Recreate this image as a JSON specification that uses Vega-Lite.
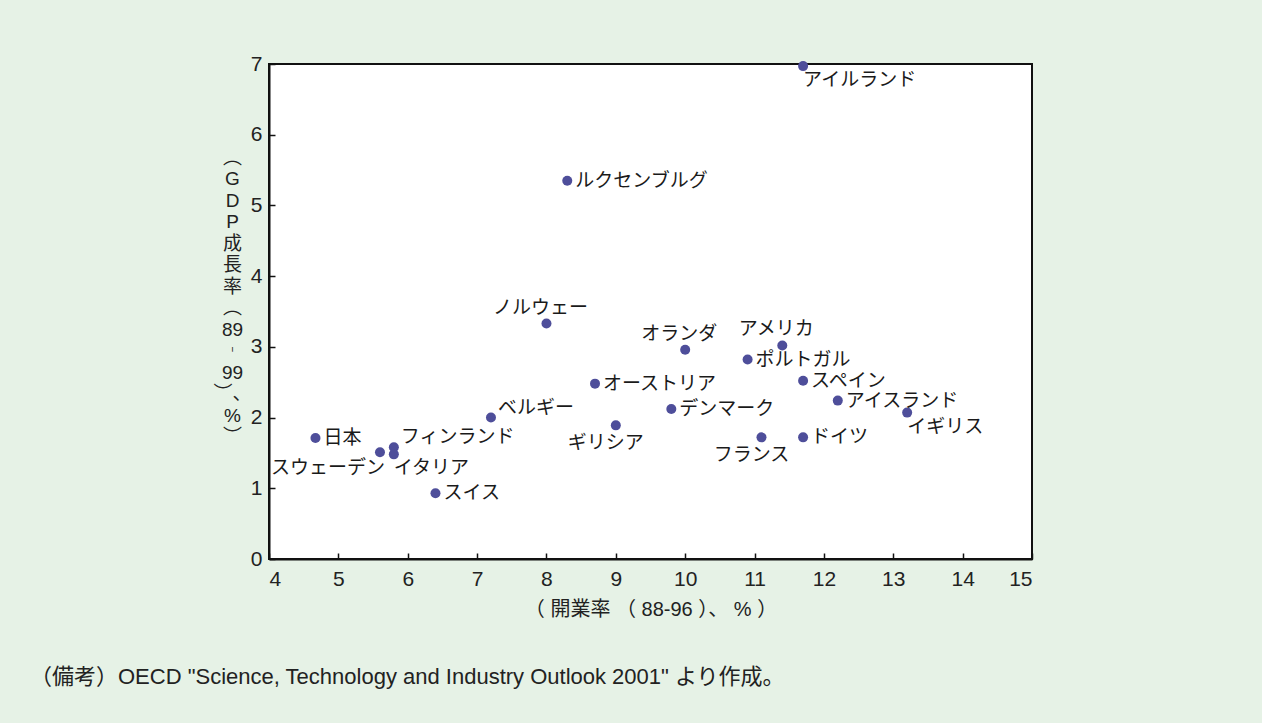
{
  "$schema": "https://vega.github.io/schema/vega-lite/v6.json",
  "width": 763,
  "height": 495,
  "autosize": {"type": "none"},
  "padding": {"left": 269, "top": 64, "right": 230, "bottom": 164},
  "background": "#e6f2e6",
  "title": {
    "text": "（備考）OECD \"Science, Technology and Industry Outlook 2001\" より作成。",
    "orient": "bottom",
    "anchor": "start",
    "frame": "group",
    "dx": -239,
    "offset": 48,
    "font": "Liberation Sans, Noto Sans CJK JP",
    "fontSize": 22,
    "fontWeight": "normal",
    "color": "#222"
  },
  "config": {
    "view": {"fill": "white", "stroke": "#111", "strokeWidth": 2},
    "axis": {
      "grid": false,
      "domainColor": "#111",
      "domainWidth": 2,
      "tickColor": "#111",
      "tickWidth": 1.5,
      "tickSize": -6,
      "labelFont": "Liberation Sans",
      "labelFontSize": 21,
      "labelColor": "#222",
      "titleFont": "Liberation Sans, Noto Sans CJK JP",
      "titleFontSize": 20,
      "titleFontWeight": "normal",
      "titleColor": "#222"
    },
    "text": {"font": "Noto Sans CJK JP", "fontSize": 19, "color": "#1a1a1a"}
  },
  "data": {
    "values": [
      {"country": "日本", "kaigyo": 4.67, "gdp": 1.71},
      {"country": "スウェーデン", "kaigyo": 5.6, "gdp": 1.51},
      {"country": "フィンランド", "kaigyo": 5.8, "gdp": 1.58},
      {"country": "イタリア", "kaigyo": 5.8, "gdp": 1.48},
      {"country": "スイス", "kaigyo": 6.4, "gdp": 0.93},
      {"country": "ベルギー", "kaigyo": 7.2, "gdp": 2.0},
      {"country": "ノルウェー", "kaigyo": 8.0, "gdp": 3.33},
      {"country": "ルクセンブルグ", "kaigyo": 8.3, "gdp": 5.35},
      {"country": "オーストリア", "kaigyo": 8.7, "gdp": 2.48},
      {"country": "ギリシア", "kaigyo": 9.0, "gdp": 1.89},
      {"country": "デンマーク", "kaigyo": 9.8, "gdp": 2.12},
      {"country": "オランダ", "kaigyo": 10.0, "gdp": 2.96},
      {"country": "ポルトガル", "kaigyo": 10.9, "gdp": 2.82},
      {"country": "フランス", "kaigyo": 11.1, "gdp": 1.72},
      {"country": "アメリカ", "kaigyo": 11.4, "gdp": 3.02},
      {"country": "アイルランド", "kaigyo": 11.7, "gdp": 6.97},
      {"country": "スペイン", "kaigyo": 11.7, "gdp": 2.52},
      {"country": "ドイツ", "kaigyo": 11.7, "gdp": 1.72},
      {"country": "アイスランド", "kaigyo": 12.2, "gdp": 2.24},
      {"country": "イギリス", "kaigyo": 13.2, "gdp": 2.07}
    ]
  },
  "encoding": {
    "x": {
      "field": "kaigyo",
      "type": "quantitative",
      "scale": {"domain": [4, 15], "nice": false, "zero": false},
      "axis": {
        "values": [4, 5, 6, 7, 8, 9, 10, 11, 12, 13, 14, 15],
        "title": "（ 開業率 （ 88-96 ）、 % ）",
        "labelPadding": 15,
        "titlePadding": 10
      }
    },
    "y": {
      "field": "gdp",
      "type": "quantitative",
      "scale": {"domain": [0, 7], "nice": false, "zero": true},
      "axis": {
        "values": [0, 1, 2, 3, 4, 5, 6, 7],
        "title": ["︵", "G", "D", "P", "成", "長", "率", "︵", "89", "︲", "99", "︶、", "%", "︶"],
        "titleAngle": 0,
        "titleAlign": "center",
        "titleBaseline": "middle",
        "titleLineHeight": 21.5,
        "titleX": -37,
        "titleY": 93,
        "titleFontSize": 19,
        "labelPadding": 13
      }
    }
  },
  "layer": [
    {
      "mark": {"type": "point", "filled": true, "opacity": 1, "size": 100, "color": "#4e4e9a"}
    },
    {
      "transform": [{"filter": {"field": "country", "oneOf": ["ルクセンブルグ", "オーストリア", "デンマーク", "日本", "ポルトガル", "スペイン", "アイスランド", "ドイツ", "スイス"]}}],
      "mark": {"type": "text", "align": "left", "baseline": "middle", "dx": 8, "dy": 0},
      "encoding": {"text": {"field": "country"}}
    },
    {
      "transform": [{"filter": {"field": "country", "oneOf": ["フィンランド", "ベルギー"]}}],
      "mark": {"type": "text", "align": "left", "baseline": "middle", "dx": 7, "dy": -10},
      "encoding": {"text": {"field": "country"}}
    },
    {
      "transform": [{"filter": {"field": "country", "oneOf": ["ノルウェー", "オランダ", "アメリカ"]}}],
      "mark": {"type": "text", "align": "center", "baseline": "middle", "dx": -6, "dy": -16},
      "encoding": {"text": {"field": "country"}}
    },
    {
      "transform": [{"filter": {"field": "country", "oneOf": ["アイルランド", "イギリス", "イタリア"]}}],
      "mark": {"type": "text", "align": "left", "baseline": "middle", "dx": 0, "dy": 14},
      "encoding": {"text": {"field": "country"}}
    },
    {
      "transform": [{"filter": {"field": "country", "oneOf": ["ギリシア", "フランス"]}}],
      "mark": {"type": "text", "align": "center", "baseline": "middle", "dx": -10, "dy": 18},
      "encoding": {"text": {"field": "country"}}
    },
    {
      "transform": [{"filter": {"field": "country", "oneOf": ["スウェーデン"]}}],
      "mark": {"type": "text", "align": "right", "baseline": "middle", "dx": 5, "dy": 16},
      "encoding": {"text": {"field": "country"}}
    }
  ]
}
